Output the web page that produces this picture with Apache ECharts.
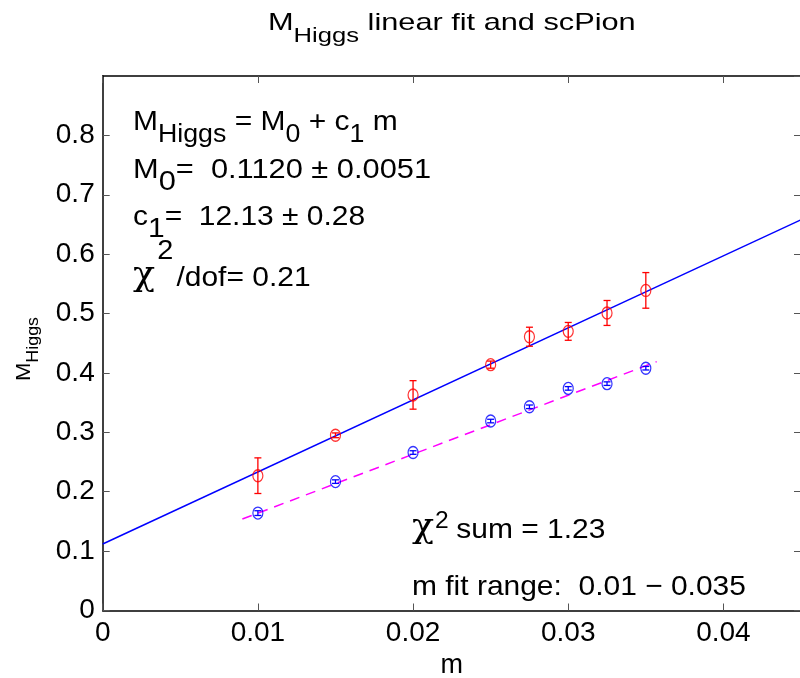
<!DOCTYPE html>
<html>
<head>
<meta charset="utf-8">
<script src="https://cdn.jsdelivr.net/npm/echarts@6/dist/echarts.min.js"></script>
<style>
  html, body { margin: 0; padding: 0; background: #fff; }
  #chart { width: 800px; height: 678px; }
</style>
</head>
<body>
<div id="chart"></div>
<script>
// Quark masses m used in the fit
const mValues = [0.01, 0.015, 0.02, 0.025, 0.0275, 0.03, 0.0325, 0.035];

// M_Higgs measurements (red) with their errors
const higgsMass = [0.227, 0.295, 0.363, 0.414, 0.461, 0.470, 0.501, 0.539];
const higgsErr  = [0.030, 0.004, 0.024, 0.006, 0.016, 0.015, 0.021, 0.030];

// scPion measurements (blue) with their errors
const pionMass = [0.164, 0.217, 0.266, 0.319, 0.343, 0.374, 0.382, 0.408];
const pionErr  = [0.004, 0.003, 0.003, 0.003, 0.003, 0.003, 0.003, 0.003];

// Linear fit M = M0 + c1 m
const fitM0 = 0.1120;
const fitC1 = 12.13;
const fitRange = [0, 0.045];

// Dashed guide through the scPion points
const pionLine = [[0.009, 0.154], [0.0357, 0.419]];

// Axis ticks
const xTicks = [0, 0.01, 0.02, 0.03, 0.04];
const yTicks = [0, 0.1, 0.2, 0.3, 0.4, 0.5, 0.6, 0.7, 0.8];

const FONT = 'Liberation Sans, Arial, Helvetica, sans-serif';
const GREEK = 'DejaVu Serif, serif';

const chart = echarts.init(document.getElementById('chart'), null, { renderer: 'canvas' });

function errorBarSeries(name, ys, errs, color) {
  return {
    name: name,
    type: 'custom',
    data: mValues.map((x, i) => [x, ys[i] - errs[i], ys[i] + errs[i]]),
    z: 3,
    renderItem: function (params, api) {
      const lo = api.coord([api.value(0), api.value(1)]);
      const hi = api.coord([api.value(0), api.value(2)]);
      const half = 3.5;
      const st = { stroke: color, lineWidth: 1.3 };
      return {
        type: 'group',
        children: [
          { type: 'line', shape: { x1: lo[0], y1: lo[1], x2: hi[0], y2: hi[1] }, style: st },
          { type: 'line', shape: { x1: lo[0] - half, y1: lo[1], x2: lo[0] + half, y2: lo[1] }, style: st },
          { type: 'line', shape: { x1: hi[0] - half, y1: hi[1], x2: hi[0] + half, y2: hi[1] }, style: st }
        ]
      };
    }
  };
}

const fitLine = fitRange.map(x => [x, fitM0 + fitC1 * x]);

const axisLine = { show: true, onZero: false, lineStyle: { color: '#000', width: 1.5 } };
const tickIn = { show: true, inside: true, length: 7, lineStyle: { color: '#555', width: 1 } };

const fmt = v => {
  if (Math.abs(v) < 1e-12) return '0';
  return String(parseFloat(v.toFixed(4)));
};

// Rich text block: main glyphs (a), lowered subscripts (s),
// raised superscripts (p, q) and a Greek chi (c)
function richStyles(fs, subFs, subDrop) {
  const P = 26;
  const L = 32;
  const base = { fontFamily: FONT, color: '#000', verticalAlign: 'top' };
  return {
    a: Object.assign({}, base, { fontSize: fs, lineHeight: L, padding: [P, 0, 0, 0] }),
    s: Object.assign({}, base, { fontSize: subFs, lineHeight: L, padding: [P + subDrop, 0, 0, 0] }),
    p: Object.assign({}, base, { fontSize: 27, lineHeight: 28, padding: [0, 3, 0, 2] }),
    q: Object.assign({}, base, { fontSize: 23, lineHeight: 24, padding: [20, 7, 0, 1] }),
    c: Object.assign({}, base, { fontFamily: GREEK, fontSize: 34, lineHeight: 34, padding: [21, 0, 0, 0] })
  };
}

function note(x, y, text, subDrop, subFs, sx) {
  return {
    type: 'text',
    x: x, y: y, scaleX: sx || 1.07, z: 10,
    style: { text: text, rich: richStyles(28, subFs || 28, subDrop), align: 'left', verticalAlign: 'top', font: '28px ' + FONT }
  };
}

const option = {
  backgroundColor: '#fff',
  animation: false,
  grid: { left: 102.7, right: -1, top: 76, bottom: 67.5, outerBoundsMode: 'none', containLabel: false },
  xAxis: [
    {
      type: 'value', min: 0, max: 0.045, interval: 0.01, position: 'bottom',
      axisLine: axisLine, axisTick: tickIn, splitLine: { show: false },
      axisLabel: { fontSize: 28, fontFamily: FONT, color: '#000', margin: 9, showMaxLabel: false,
        formatter: v => (xTicks.some(t => Math.abs(t - v) < 1e-9) ? fmt(v) : '') },
      name: 'm', nameLocation: 'middle', nameGap: 42,
      nameTextStyle: { fontSize: 27, fontFamily: FONT, color: '#000' }
    },
    {
      type: 'value', min: 0, max: 0.045, interval: 0.01, position: 'top',
      axisLine: axisLine, axisTick: tickIn, axisLabel: { show: false }, splitLine: { show: false }
    }
  ],
  yAxis: [
    {
      type: 'value', min: 0, max: 0.9, interval: 0.1, position: 'left',
      axisLine: axisLine, axisTick: tickIn, splitLine: { show: false },
      axisLabel: { fontSize: 28, fontFamily: FONT, color: '#000', margin: 8, showMaxLabel: false,
        formatter: v => (yTicks.some(t => Math.abs(t - v) < 1e-9) ? fmt(v) : '') }
    },
    {
      type: 'value', min: 0, max: 0.9, interval: 0.1, position: 'right',
      axisLine: axisLine, axisTick: tickIn, axisLabel: { show: false }, splitLine: { show: false }
    }
  ],
  graphic: [
    // Title
    {
      type: 'text', x: 268, y: 11, scaleX: 1.28, z: 10,
      style: { text: '{a|M}{s|Higgs}{a| linear fit and scPion}', align: 'left', verticalAlign: 'top', rich: {
        a: { fontSize: 24, fontFamily: FONT, color: '#000', lineHeight: 24, verticalAlign: 'top', padding: [0, 0, 0, 0] },
        s: { fontSize: 20, fontFamily: FONT, color: '#000', lineHeight: 20, verticalAlign: 'top', padding: [15, 0, 0, 0] }
      } }
    },
    // Y axis name, read bottom to top
    {
      type: 'text', x: 14, y: 381, rotation: Math.PI / 2, scaleX: 1.05, z: 10,
      style: { text: '{a|M}{s|Higgs}', align: 'left', verticalAlign: 'top', rich: {
        a: { fontSize: 21, fontFamily: FONT, color: '#000', lineHeight: 22, verticalAlign: 'top', padding: [0, 0, 0, 0] },
        s: { fontSize: 17, fontFamily: FONT, color: '#000', lineHeight: 18, verticalAlign: 'top', padding: [11, 0, 0, 0] }
      } }
    },
    note(133, 82, '{a|M}{s|Higgs}{a| = M}{s|0}{a| + c}{s|1}{a| m}', 15, 25),
    note(133, 130, '{a|M}{s|0}{a|=  0.1120 ± 0.0051}', 12, 28, 1.1),
    note(133, 177, '{a|c}{s|1}{a|=  12.13 ± 0.28}', 12),
    note(133, 238, '{c|χ}{p|2}{a|/dof= 0.21}', 12),
    note(412, 490, '{c|χ}{q|2}{a|sum = 1.23}', 12),
    note(412, 547, '{a|m fit range:  0.01 − 0.035}', 12)
  ],
  series: [
    {
      name: 'fit', type: 'line', data: fitLine, showSymbol: false, z: 2,
      lineStyle: { color: '#0000ff', width: 1.5 }
    },
    {
      name: 'pion fit', type: 'line', data: pionLine, showSymbol: false, z: 2,
      lineStyle: { color: '#ff00ff', width: 1.5, type: [10, 7] }
    },
    errorBarSeries('Higgs err', higgsMass, higgsErr, '#ff0000'),
    errorBarSeries('Pion err', pionMass, pionErr, '#0000ff'),
    {
      name: 'Higgs', type: 'scatter', data: mValues.map((x, i) => [x, higgsMass[i]]), z: 4,
      symbol: 'circle', symbolSize: [10, 12],
      itemStyle: { color: 'rgba(0,0,0,0)', borderColor: '#ff0000', borderWidth: 1.3 }
    },
    {
      name: 'Pion', type: 'scatter', data: mValues.map((x, i) => [x, pionMass[i]]), z: 4,
      symbol: 'circle', symbolSize: [10, 12],
      itemStyle: { color: 'rgba(0,0,0,0)', borderColor: '#0000ff', borderWidth: 1.3 }
    }
  ]
};

chart.setOption(option);
</script>
</body>
</html>
